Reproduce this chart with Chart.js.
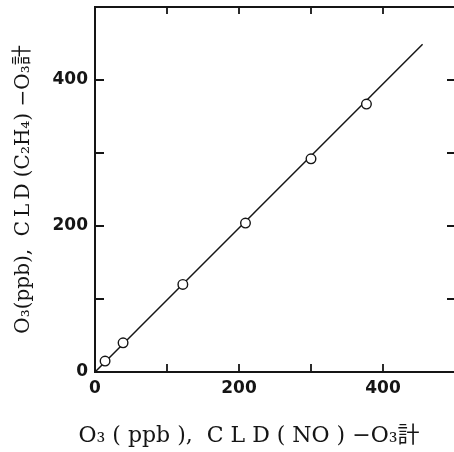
<!DOCTYPE html>
<html>
<head>
<meta charset="utf-8">
<script src="https://cdn.jsdelivr.net/npm/chart.js@4.4.1/dist/chart.umd.min.js"></script>
<style>
  html, body { margin: 0; padding: 0; background: #fff; overflow: hidden; }
  #wrap { width: 456px; height: 452px; }
</style>
</head>
<body>
<div id="wrap"><canvas id="cmpChart" width="456" height="452"></canvas></div>
<script>
// NO-type CLD reading vs. C2H4-type CLD reading, O3 in ppb
const cldNo = [14, 39, 122, 209, 300, 377];
const cldEthylene = [15, 40, 120, 204, 292, 367];

// regression line end points
const fitX = [0, 455];
const fitY = [0, 449];

const tickValues = [100, 200, 300, 400];
const labelledTicks = [0, 200, 400];

const xTitle = 'O₃ ( ppb ),  C L D ( NO ) −O₃計';
const yTitle = 'O₃(ppb),  C\u2009L\u2009D (C₂H₄) −O₃計';

const ink = '#151515';

// inward tick marks on all four sides plus the closing frame
const frameTicks = {
    id: 'frameTicks',
    afterDraw(chart) {
        const { ctx, chartArea: a, scales } = chart;
        ctx.save();
        ctx.strokeStyle = ink;
        ctx.lineWidth = 2;
        ctx.beginPath();
        ctx.moveTo(a.left, a.top);
        ctx.lineTo(a.right, a.top);
        ctx.lineTo(a.right, a.bottom);
        ctx.stroke();
        ctx.lineWidth = 1.8;
        tickValues.forEach(v => {
            const px = scales.x.getPixelForValue(v);
            const py = scales.y.getPixelForValue(v);
            ctx.beginPath();
            ctx.moveTo(px, a.bottom); ctx.lineTo(px, a.bottom - 8);
            ctx.moveTo(px, a.top); ctx.lineTo(px, a.top + 7);
            ctx.moveTo(a.left, py); ctx.lineTo(a.left + 9, py);
            ctx.moveTo(a.right, py); ctx.lineTo(a.right - 8, py);
            ctx.stroke();
        });
        ctx.restore();
    }
};

const tickFont = { family: '"DejaVu Sans"', size: 17, weight: 'bold' };
const titleFamily = '"DejaVu Serif", "Noto Sans CJK JP"';

new Chart(document.getElementById('cmpChart'), {
    type: 'scatter',
    data: {
        datasets: [
            {
                data: cldNo.map((x, i) => ({ x: x, y: cldEthylene[i] })),
                pointRadius: 4.8,
                pointBorderWidth: 1.4,
                pointBorderColor: ink,
                pointBackgroundColor: '#fff',
                showLine: false,
                order: 0
            },
            {
                data: fitX.map((x, i) => ({ x: x, y: fitY[i] })),
                showLine: true,
                borderColor: ink,
                borderWidth: 1.5,
                pointRadius: 0,
                order: 1
            }
        ]
    },
    options: {
        responsive: false,
        animation: false,
        layout: { autoPadding: false, padding: { left: 8, right: 1, top: 7, bottom: 0 } },
        plugins: {
            legend: { display: false },
            tooltip: { enabled: false },
            // x-axis caption sits in the bottom title so it can run wider than the axis
            title: {
                display: true,
                position: 'bottom',
                text: '     ' + xTitle,
                color: ink,
                font: { family: titleFamily, size: 22, weight: 'normal' },
                padding: { top: 0, bottom: 3 }
            }
        },
        scales: {
            x: {
                min: 0,
                max: 500,
                grid: { display: false, drawTicks: false },
                border: { color: ink, width: 2 },
                ticks: {
                    stepSize: 100,
                    padding: 6,
                    color: ink,
                    font: tickFont,
                    maxRotation: 0,
                    callback: v => labelledTicks.includes(v) ? v : ''
                },
                afterFit: s => {
                    s.height = 80 - 29.4;
                    s.paddingLeft = 0;
                    s.paddingRight = 0;
                }
            },
            y: {
                min: 0,
                max: 500,
                grid: { display: false, drawTicks: false },
                border: { color: ink, width: 2 },
                ticks: {
                    stepSize: 100,
                    padding: 7,
                    color: ink,
                    font: tickFont,
                    callback: v => labelledTicks.includes(v) ? v : ''
                },
                title: {
                    display: true,
                    text: yTitle,
                    color: ink,
                    font: { family: titleFamily, size: 20 },
                    padding: { top: 4, bottom: 4 }
                },
                afterFit: s => {
                    s.width = 87;
                    s.paddingTop = 0;
                    s.paddingBottom = 0;
                }
            }
        }
    },
    plugins: [frameTicks]
});
</script>
</body>
</html>
